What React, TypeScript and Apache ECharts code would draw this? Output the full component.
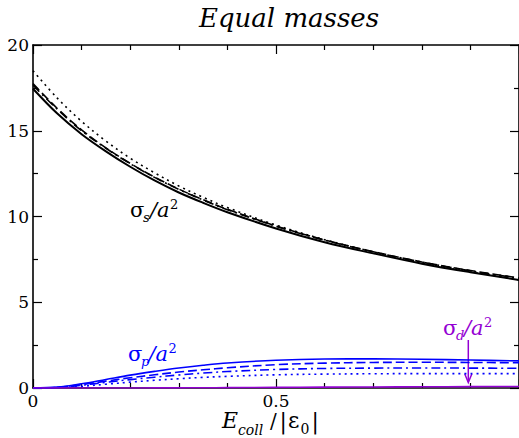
import React, { useEffect, useRef } from "react";
import * as echarts from "echarts";

// ---- data ----
const xValues = [0, 0.05, 0.1, 0.15, 0.2, 0.25, 0.3, 0.35, 0.4, 0.5, 0.6, 0.7, 0.8, 0.9, 1.0];

const sSolid = [17.45, 16.0, 14.8, 13.8, 12.9, 12.1, 11.4, 10.8, 10.25, 9.3, 8.5, 7.85, 7.25, 6.75, 6.3];
const sDashed = [17.75, 16.3, 15.05, 14.0, 13.1, 12.3, 11.6, 10.98, 10.42, 9.45, 8.63, 7.95, 7.35, 6.85, 6.42];
const sDashDot = [17.65, 16.25, 15.0, 13.98, 13.08, 12.28, 11.58, 10.96, 10.4, 9.43, 8.62, 7.94, 7.34, 6.83, 6.4];
const sDotted = [18.5, 16.9, 15.55, 14.4, 13.4, 12.55, 11.78, 11.12, 10.52, 9.5, 8.65, 7.93, 7.3, 6.77, 6.3];

const pSolid = [0, 0.05, 0.25, 0.5, 0.75, 0.97, 1.17, 1.33, 1.46, 1.62, 1.69, 1.7, 1.68, 1.63, 1.58];
const pDashed = [0, 0.04, 0.2, 0.4, 0.6, 0.77, 0.93, 1.06, 1.18, 1.36, 1.45, 1.49, 1.5, 1.49, 1.47];
const pDashDot = [0, 0.03, 0.16, 0.33, 0.49, 0.63, 0.76, 0.87, 0.96, 1.08, 1.14, 1.16, 1.17, 1.16, 1.15];
const pDotted = [0, 0.02, 0.1, 0.22, 0.34, 0.45, 0.54, 0.62, 0.68, 0.77, 0.81, 0.83, 0.84, 0.84, 0.84];

const dSolid = [0, 0, 0, 0, 0, 0.005, 0.01, 0.015, 0.02, 0.035, 0.05, 0.06, 0.07, 0.08, 0.09];

const xTickLabels = ["0", "0.5"];
const yTickLabels = ["0", "5", "10", "15", "20"];

const SERIF = "DejaVu Serif";
const BLACK = "#000000";
const BLUE = "#0000ff";
const PURPLE = "#9400d3";

const DASHED = [9, 4];
const DASHDOT = [9, 4, 2, 4];
const DOTTED = [2, 4];

type Piece = { t: string; x: number; bl: number; size: number; italic?: boolean };

function textPieces(pieces: Piece[], color: string) {
  return pieces.map((p) => ({
    type: "text",
    x: p.x,
    y: p.bl - 0.34 * p.size,
    silent: true,
    style: {
      text: p.t,
      fill: color,
      fontFamily: SERIF,
      fontSize: p.size,
      fontStyle: p.italic ? "italic" : "normal",
      align: "left",
      verticalAlign: "middle",
      lineHeight: p.size,
    },
  }));
}

function mk(name: string, ys: number[], color: string, type: any, width = 1.6) {
  return {
    name,
    type: "line",
    data: xValues.map((x, i) => [x, ys[i]]),
    showSymbol: false,
    smooth: 0.35,
    lineStyle: { color, width, type },
    z: 3,
  };
}

export default function App() {
  const ref = useRef<HTMLDivElement>(null);
  useEffect(() => {
    if (!ref.current) return;
    const chart = echarts.init(ref.current, undefined, { renderer: "svg" });
    const axisLine = { show: true, onZero: false, lineStyle: { color: BLACK, width: 1.6 } };
    const tickStyle = { color: BLACK, width: 1.2 };
    const xBase = {
      type: "value",
      min: 0,
      max: 1,
      interval: 0.5,
      axisLine,
      axisTick: { show: true, inside: true, length: 9, lineStyle: tickStyle },
      minorTick: { show: true, splitNumber: 5, length: 5, lineStyle: tickStyle },
      splitLine: { show: false },
      minorSplitLine: { show: false },
    };
    const yBase = {
      type: "value",
      min: 0,
      max: 20,
      interval: 5,
      axisLine,
      axisTick: { show: true, inside: true, length: 9, lineStyle: tickStyle },
      minorTick: { show: true, splitNumber: 2, length: 5, lineStyle: tickStyle },
      splitLine: { show: false },
      minorSplitLine: { show: false },
    };
    const option: any = {
      animation: false,
      backgroundColor: "#ffffff",
      textStyle: { fontFamily: SERIF },
      grid: { left: 33, top: 45, right: 11, bottom: 50, containLabel: false },
      xAxis: [
        {
          ...xBase,
          position: "bottom",
          axisLabel: {
            show: true,
            color: BLACK,
            fontFamily: SERIF,
            fontSize: 17,
            lineHeight: 17,
            margin: 4,
            formatter: (v: number) => {
              const idx = Math.round(v / 0.5);
              return idx < xTickLabels.length ? xTickLabels[idx] : "";
            },
          },
        },
        { ...xBase, position: "top", axisLabel: { show: false } },
      ],
      yAxis: [
        {
          ...yBase,
          position: "left",
          axisLabel: {
            show: true,
            color: BLACK,
            fontFamily: SERIF,
            fontSize: 17,
            margin: 4,
            formatter: (v: number) => yTickLabels[Math.round(v / 5)] ?? "",
          },
        },
        { ...yBase, position: "right", axisLabel: { show: false } },
      ],
      series: [
        mk("s solid", sSolid, BLACK, "solid", 2),
        mk("s dashed", sDashed, BLACK, DASHED),
        mk("s dashdot", sDashDot, BLACK, DASHDOT),
        mk("s dotted", sDotted, BLACK, DOTTED),
        mk("p solid", pSolid, BLUE, "solid"),
        mk("p dashed", pDashed, BLUE, DASHED),
        mk("p dashdot", pDashDot, BLUE, DASHDOT),
        mk("p dotted", pDotted, BLUE, DOTTED),
        mk("d solid", dSolid, PURPLE, "solid"),
      ],
      graphic: [
        {
          type: "text",
          x: 289,
          y: 27 - 0.34 * 26,
          silent: true,
          style: {
            text: "Equal masses",
            fill: BLACK,
            fontFamily: SERIF,
            fontSize: 26,
            fontStyle: "italic",
            align: "center",
            verticalAlign: "middle",
          },
        },
        ...textPieces(
          [
            { t: "E", x: 222, bl: 428, size: 22, italic: true },
            { t: "coll", x: 238, bl: 435, size: 14, italic: true },
            { t: "/", x: 270, bl: 428, size: 20 },
            { t: "|", x: 279.5, bl: 429, size: 22 },
            { t: "ε", x: 288, bl: 428, size: 22 },
            { t: "0", x: 300.5, bl: 434, size: 14 },
            { t: "|", x: 311.5, bl: 429, size: 22 },
          ],
          BLACK
        ),
        ...textPieces(
          [
            { t: "σ", x: 130, bl: 217, size: 21 },
            { t: "s", x: 143, bl: 222, size: 13, italic: true },
            { t: "/a", x: 150, bl: 217, size: 21, italic: true },
            { t: "2", x: 170, bl: 209, size: 13 },
          ],
          BLACK
        ),
        ...textPieces(
          [
            { t: "σ", x: 128, bl: 361, size: 21 },
            { t: "p", x: 141, bl: 366, size: 13, italic: true },
            { t: "/a", x: 148.5, bl: 361, size: 21, italic: true },
            { t: "2", x: 168.5, bl: 353, size: 13 },
          ],
          BLUE
        ),
        ...textPieces(
          [
            { t: "σ", x: 443, bl: 335, size: 21 },
            { t: "d", x: 456, bl: 340, size: 13, italic: true },
            { t: "/a", x: 464, bl: 335, size: 21, italic: true },
            { t: "2", x: 484, bl: 327, size: 13 },
          ],
          PURPLE
        ),
        {
          type: "line",
          silent: true,
          shape: { x1: 468.3, y1: 340, x2: 468.3, y2: 382 },
          style: { stroke: PURPLE, lineWidth: 1.5 },
        },
        {
          type: "polyline",
          silent: true,
          shape: { points: [[464.8, 374], [468.3, 382.5], [471.8, 374]] },
          style: { stroke: PURPLE, lineWidth: 1.5, fill: "none" },
        },
      ],
    };
    chart.setOption(option);
    return () => chart.dispose();
  }, []);
  return (
    <div
      style={{
        position: "fixed",
        left: 0,
        top: 0,
        width: 519,
        height: 438,
        overflow: "hidden",
        background: "#fff",
      }}
    >
      <div ref={ref} style={{ width: 530, height: 438 }} />
    </div>
  );
}
